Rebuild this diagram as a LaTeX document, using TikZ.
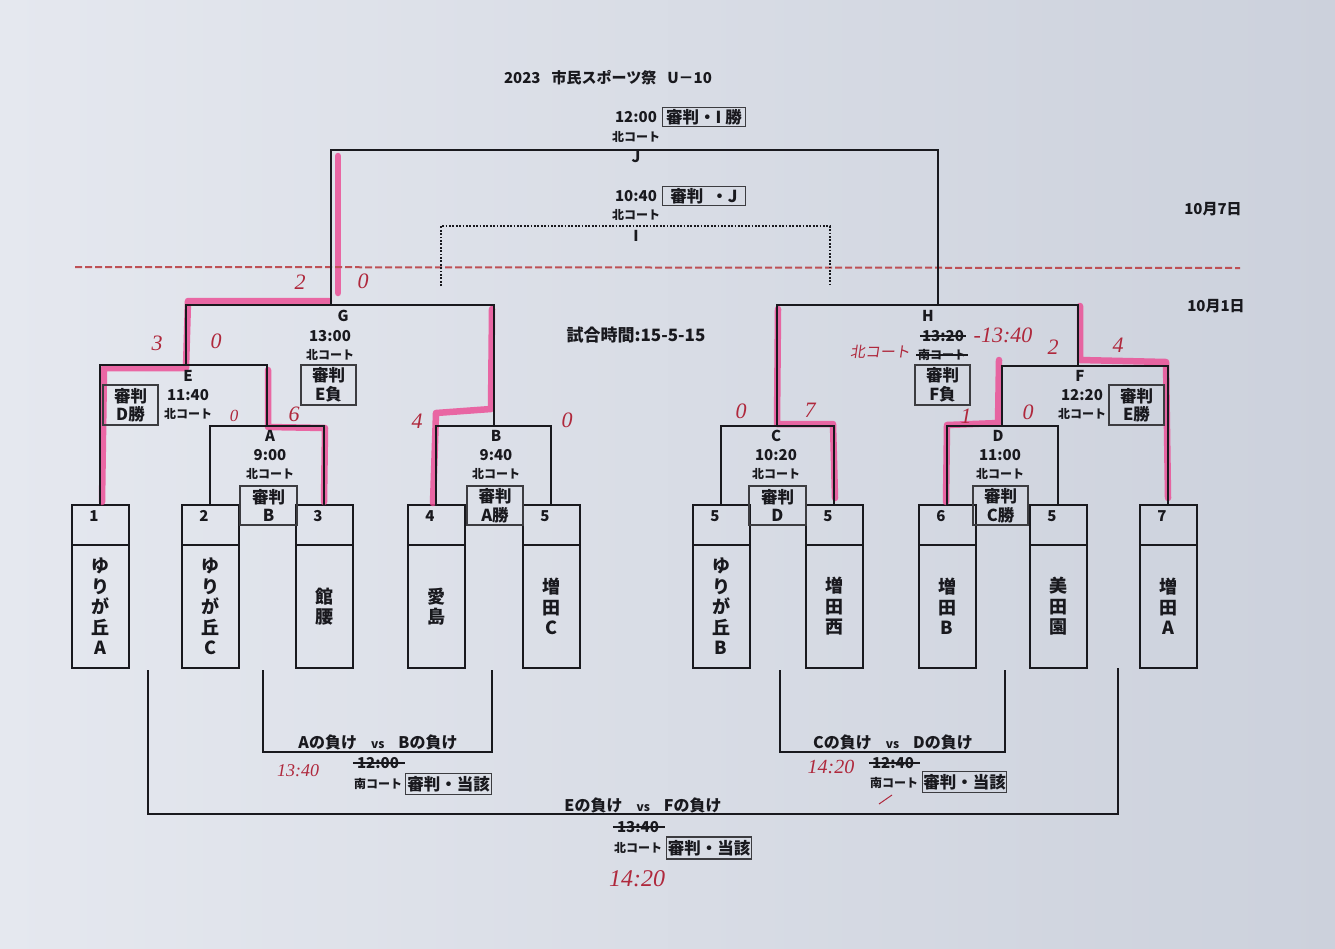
\documentclass[tikz,border=0pt]{standalone}
\usepackage{fontspec}
\setmainfont{Noto Sans CJK JP}
\newfontfamily\hand{Liberation Serif}
\newfontfamily\handjp{Noto Sans CJK JP}[FakeSlant=0.15]
\usetikzlibrary{calc}
\definecolor{paper}{RGB}{204,209,220}
\definecolor{paperlight}{RGB}{229,232,239}
\definecolor{ink}{RGB}{25,25,30}
\definecolor{pen}{RGB}{175,40,60}
\definecolor{hilite}{RGB}{236,72,146}
\definecolor{dateline}{RGB}{190,80,85}
\tikzset{
  br/.style={draw=ink, line width=2pt},
  lbl/.style={font=\bfseries\fontsize{15}{15}\selectfont, inner sep=0pt, text=ink},
  court/.style={font=\bfseries\fontsize{12}{12}\selectfont, inner sep=0pt, text=ink},
  refbox/.style={draw=ink!85, line width=1.3pt, font=\bfseries\fontsize{16.5}{18.5}\selectfont, align=center, inner sep=1pt, text=ink},
  teamhead/.style={draw=ink, line width=2pt, minimum width=57pt, minimum height=40pt, inner sep=0pt, outer sep=0pt},
  teamname/.style={draw=ink, line width=2pt, minimum width=57pt, minimum height=123pt, align=center, font=\bfseries\fontsize{18}{20.5}\selectfont, inner sep=0pt, outer sep=0pt, text=ink},
  num/.style={font=\bfseries\fontsize{15}{15}\selectfont, inner sep=0pt, text=ink},
  hw/.style={text=pen, font=\hand\itshape\fontsize{22}{22}\selectfont, inner sep=0pt},
  hl/.style={draw=hilite, line width=6.5pt, opacity=0.8, line join=round, line cap=round},
  strk/.style={draw=ink, line width=1.3pt},
}
\begin{document}
\begin{tikzpicture}[x=1pt,y=-1pt]
% background
\shade[left color=paperlight, right color=paper] (0,0) rectangle (1335,948);
\useasboundingbox (0,0) rectangle (1335,948);

% title and dates
\node[font=\bfseries\fontsize{15}{15}\selectfont, inner sep=0pt, text=ink] (title) at (608,78) {2023\hspace{11pt}市民スポーツ祭\hspace{11pt}U－10};
\node[lbl] (d7) at (1213,209) {10月7日};
\node[lbl] (d1) at (1216,306) {10月1日};
\node[lbl, font=\bfseries\fontsize{17}{17}\selectfont] (rule) at (636,335) {試合時間:15-5-15};

% team boxes
\foreach \id/\x/\n/\name in {1/100/1/{ゆ\\り\\が\\丘\\A}, 2/210/2/{ゆ\\り\\が\\丘\\C}, 3/324/3/{館\\腰}, 4/436/4/{愛\\島}, 5/551/5/{増\\田\\C}, 6/721/5/{ゆ\\り\\が\\丘\\B}, 7/834/5/{増\\田\\西}, 8/947/6/{増\\田\\B}, 9/1058/5/{美\\田\\園}, 10/1168/7/{増\\田\\A}}{
  \node[teamhead] (h\id) at (\x,525) {};
  \node[teamname] (t\id) at (\x,606.5) {\name};
  \node[num] (n\id) at (\x-6,516) {\n};
}

% bracket coordinates
\coordinate (Atop) at (267,426);
\coordinate (Btop) at (494,426);
\coordinate (Ctop) at (777,426);
\coordinate (Dtop) at (1002,426);
\coordinate (Etop) at (186,365);
\coordinate (Ftop) at (1078,366);
\coordinate (Gtop) at (331,305);
\coordinate (Htop) at (938,305);
\coordinate (Jtop) at (636,150);

% highlighter (winning paths)
\draw[hl] (338,156) -- (338,293);
\draw[hl] (329,301) -- (188,301) -- (186,368) -- (104,368) -- (102,502);
\draw[hl] (268,370) -- (268,427) -- (325,428) -- (324,502);
\draw[hl] (492,309) -- (491,409) -- (436,413) -- (433,503);
\draw[hl] (778,309) -- (777,424) -- (833,424) -- (835,498);
\draw[hl] (1080,306) -- (1080,360) -- (1166,362) -- (1168,498);
\draw[hl] (999,360) -- (998,423) -- (947,425) -- (946,502);

% date separator
\coordinate (dl1) at (75,267);
\coordinate (dl2) at (1240,268);
\draw[dateline, line width=2pt, dash pattern=on 7pt off 3pt] (dl1) -- (dl2);

% first round brackets
\draw[br] (h2.north) |- (Atop) -| (h3.north);
\draw[br] (h4.north) |- (Btop) -| (h5.north);
\draw[br] (h6.north) |- (Ctop) -| (h7.north);
\draw[br] (h8.north) |- (Dtop) -| (h9.north);
\draw[br] (h1.north) |- (Etop) -| (Atop);
\draw[br] (Dtop) |- (Ftop) -| (h10.north);
\draw[br] (Etop) |- (Gtop) -| (Btop);
\draw[br] (Ctop) |- (Htop) -| (Ftop);
\draw[br] (Gtop) |- (Jtop) -| (Htop);

% I bracket (dotted)
\coordinate (IL) at (441,286);
\coordinate (IR) at (830,286);
\coordinate (Itop) at (636,226);
\draw[draw=ink, line width=1.8pt, dash pattern=on 1.8pt off 1.6pt] (IL) |- (Itop) -| (IR);

% consolation brackets
\coordinate (abL) at (263,670); \coordinate (abR) at (492,670); \coordinate (abB) at (378,752);
\coordinate (cdL) at (780,670); \coordinate (cdR) at (1005,670); \coordinate (cdB) at (893,752);
\coordinate (efL) at (148,670); \coordinate (efR) at (1118,668); \coordinate (efB) at (633,814);
\draw[br] (abL) |- (abB) -| (abR);
\draw[br] (cdL) |- (cdB) -| (cdR);
\draw[br] (efL) |- (efB) -| (efR);

% J and I labels
\node[lbl] (Jt) at (636,117) {12:00};
\node[refbox, minimum width=83, minimum height=19] (Jr) at (704,117) {審判・I 勝};
\node[court] (Jc) at (636,137) {北コート};
\node[lbl] (Jl) at (636,157) {J};
\node[lbl] (It) at (636,196) {10:40};
\node[refbox, minimum width=83, minimum height=19] (Ir) at (704,196) {審判\hspace{8pt}・J};
\node[court] (Ic) at (636,215) {北コート};
\node[lbl] (Il) at (636,236) {I};

% G
\node[lbl] (Gl) at (343,316) {G};
\node[lbl] (Gt) at (330,336) {13:00};
\node[court] (Gc) at (330,355) {北コート};
\node[refbox, minimum width=55, minimum height=40] (Gr) at (328.5,385) {審判\\E負};
% E
\node[lbl] (El) at (188,376) {E};
\node[lbl] (Et) at (188,395) {11:40};
\node[court] (Ec) at (188,414) {北コート};
\node[refbox, minimum width=55, minimum height=40] (Er) at (130.5,405) {審判\\D勝};
% A
\node[lbl] (Al) at (270,436) {A};
\node[lbl] (At) at (270,455) {9:00};
\node[court] (Ac) at (270,474) {北コート};
\node[refbox, minimum width=57, minimum height=39] (Ar) at (268.5,505.5) {審判\\B};
% B
\node[lbl] (Bl) at (496,436) {B};
\node[lbl] (Bt) at (496,455) {9:40};
\node[court] (Bc) at (496,474) {北コート};
\node[refbox, minimum width=56, minimum height=39] (Brf) at (495,505.5) {審判\\A勝};
% C
\node[lbl] (Cl) at (776,436) {C};
\node[lbl] (Ct) at (776,455) {10:20};
\node[court] (Cc) at (776,474) {北コート};
\node[refbox, minimum width=57, minimum height=39] (Cr) at (777.5,505.5) {審判\\D};
% D
\node[lbl] (Dl) at (998,436) {D};
\node[lbl] (Dt) at (1000,455) {11:00};
\node[court] (Dc) at (1000,474) {北コート};
\node[refbox, minimum width=55, minimum height=39] (Dr) at (1000.5,505.5) {審判\\C勝};
% F
\node[lbl] (Fl) at (1080,376) {F};
\node[lbl] (Ft) at (1082,395) {12:20};
\node[court] (Fc) at (1082,414) {北コート};
\node[refbox, minimum width=55, minimum height=40] (Fr) at (1136.5,405) {審判\\E勝};
% H
\node[lbl] (Hl) at (928,316) {H};
\node[lbl] (Ht) at (943,336) {13:20};
\draw[strk] ([xshift=-2]Ht.west) -- ([xshift=2]Ht.east);
\node[court] (Hc) at (942,355) {南コート};
\draw[strk] ([xshift=-2]Hc.west) -- ([xshift=2]Hc.east);
\node[refbox, minimum width=55, minimum height=40] (Hr) at (942.5,385) {審判\\F負};

% consolation labels
\node[lbl, font=\bfseries\fontsize{16}{16}\selectfont] (abT) at (378,742) {Aの負け\hspace{14pt}{\fontsize{12}{12}\selectfont vs}\hspace{14pt}Bの負け};
\node[lbl] (abTm) at (378,763) {12:00};
\draw[strk] ([xshift=-4]abTm.west) -- ([xshift=6]abTm.east);
\node[court] (abC) at (378,784) {南コート};
\node[refbox, minimum width=86, minimum height=21] (abR2) at (448.5,784) {審判・当該};

\node[lbl, font=\bfseries\fontsize{16}{16}\selectfont] (cdT) at (893,742) {Cの負け\hspace{14pt}{\fontsize{12}{12}\selectfont vs}\hspace{14pt}Dの負け};
\node[lbl] (cdTm) at (893,763) {12:40};
\draw[strk] ([xshift=-3]cdTm.west) -- ([xshift=6]cdTm.east);
\node[court] (cdC) at (894,783) {南コート};
\node[refbox, minimum width=84, minimum height=21] (cdR2) at (964.5,782) {審判・当該};

\node[lbl, font=\bfseries\fontsize{16}{16}\selectfont] (efT) at (643,805) {Eの負け\hspace{14pt}{\fontsize{12}{12}\selectfont vs}\hspace{14pt}Fの負け};
\node[lbl] (efTm) at (638,827) {13:40};
\draw[strk] ([xshift=-4]efTm.west) -- ([xshift=6]efTm.east);
\node[court] (efC) at (638,848) {北コート};
\node[refbox, minimum width=85, minimum height=22] (efR2) at (709,848) {審判・当該};

% handwritten scores and times
\node[hw] (s1) at (300,282) {2};
\node[hw] (s2) at (363,281) {0};
\node[hw] (s3) at (157,343) {3};
\node[hw] (s4) at (216,341) {0};
\node[hw, font=\hand\itshape\fontsize{17}{17}\selectfont] (s5) at (234,416) {0};
\node[hw] (s6) at (294,414) {6};
\node[hw] (s7) at (417,421) {4};
\node[hw] (s8) at (567,420) {0};
\node[hw] (s9) at (741,411) {0};
\node[hw] (s10) at (810,410) {7};
\node[hw] (s11) at (1053,347) {2};
\node[hw] (s12) at (1118,345) {4};
\node[hw] (s13) at (966,416) {1};
\node[hw] (s14) at (1028,412) {0};
\node[hw, font=\handjp\fontsize{15}{15}\selectfont] (hc) at (880,352) {北コート};
\node[hw] (ht) at (1003,335) {-13:40};
\node[hw, font=\hand\itshape\fontsize{18}{18}\selectfont] (abH) at (298,771) {13:40};
\node[hw, font=\hand\itshape\fontsize{20}{20}\selectfont] (cdH) at (831,767) {14:20};
\node[hw, font=\hand\itshape\fontsize{24}{24}\selectfont] (efH) at (637,879) {14:20};
\coordinate (sl1) at (879,804); \coordinate (sl2) at (892,795);
\draw[pen, line width=1pt] (sl1) -- (sl2);
\end{tikzpicture}
\end{document}
